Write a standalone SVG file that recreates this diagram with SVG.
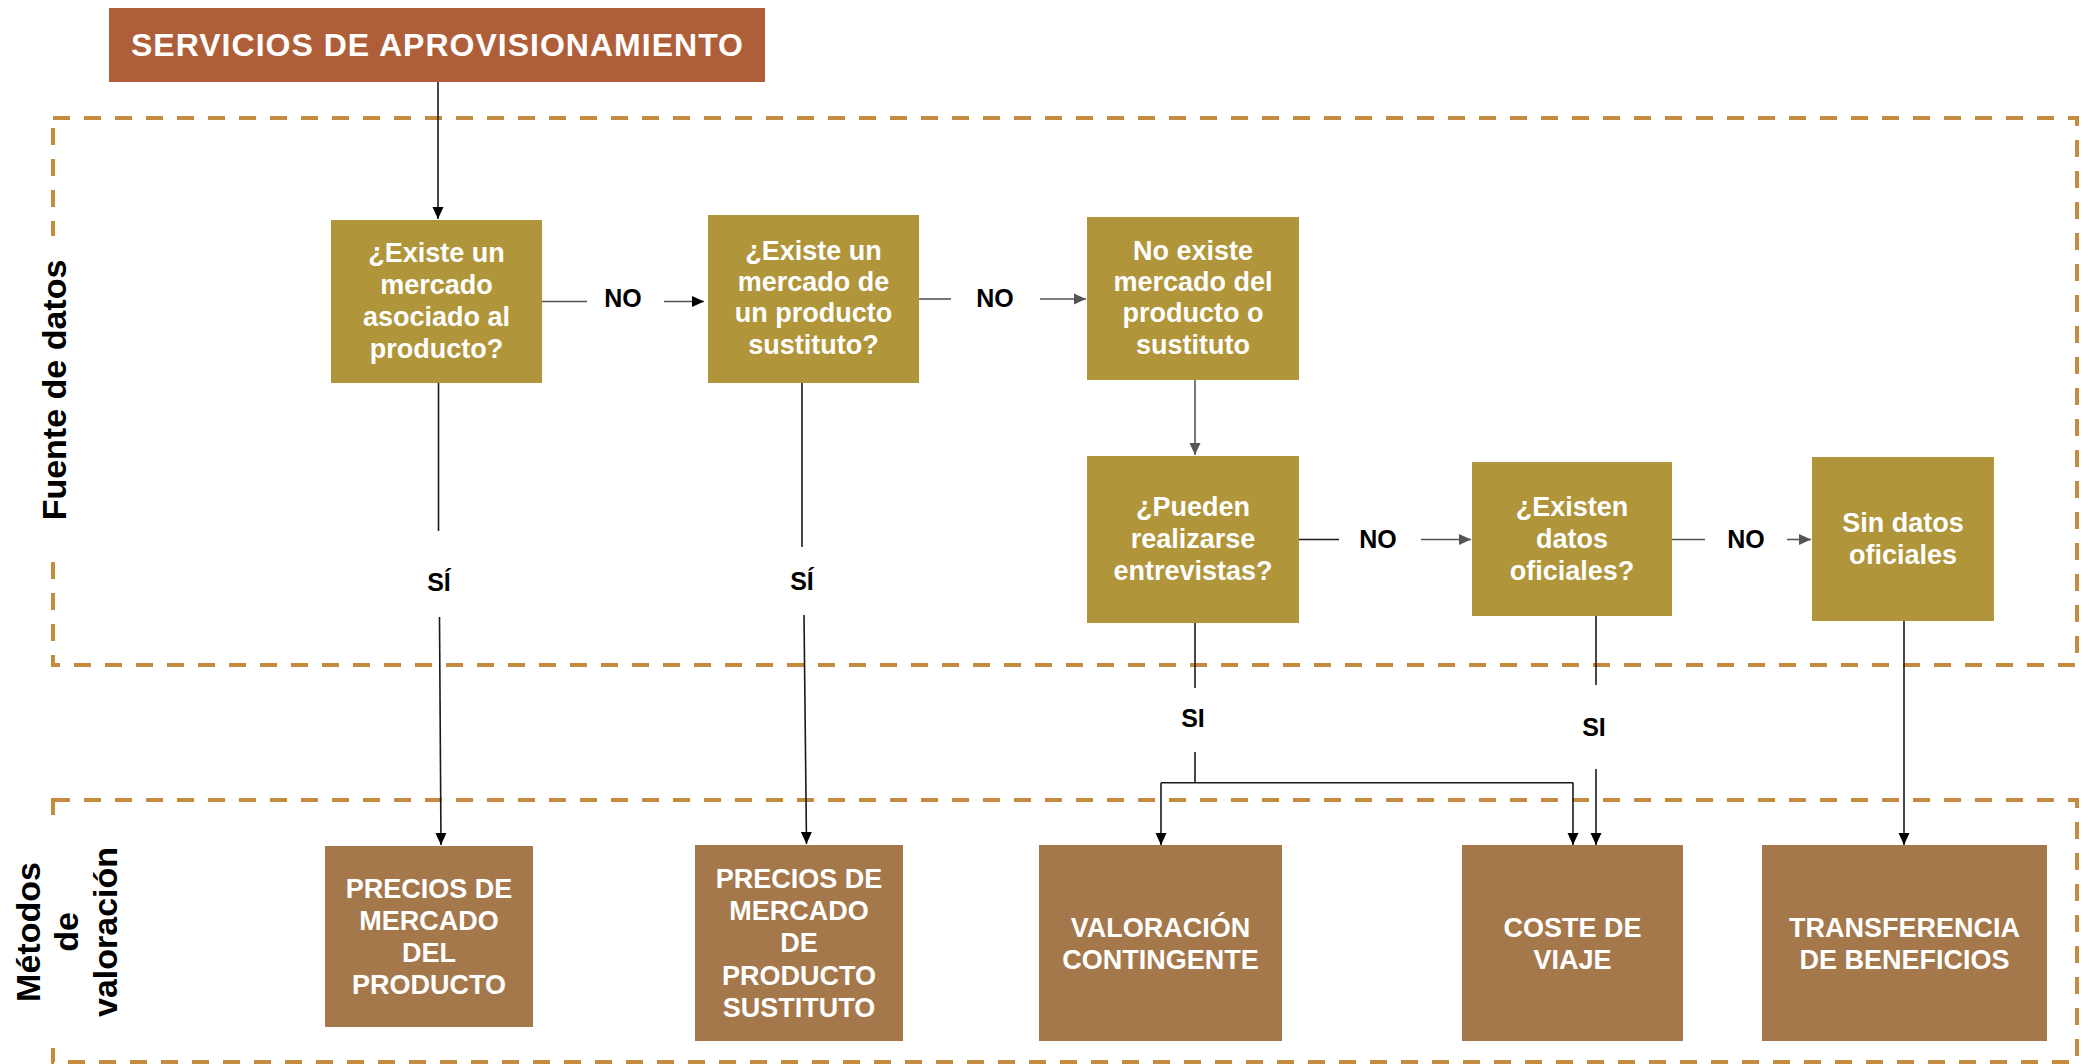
<svg xmlns="http://www.w3.org/2000/svg" width="2089" height="1064" viewBox="0 0 2089 1064">
<style>
text{font-family:"Liberation Sans",Arial,sans-serif;font-weight:bold}
.hdr{fill:#AE5F3A}
.gold{fill:#B0953A}
.brown{fill:#A4784B}
.wt{fill:#FFFFFF;font-size:27px;text-anchor:middle}
.lbl{fill:#000000;font-size:25px;text-anchor:middle}
.side{fill:#000000;font-size:34px;text-anchor:middle}
.zone{fill:none;stroke:#C48A3E;stroke-width:4;stroke-dasharray:17 14}
.c{fill:none;stroke:#1a1a1a;stroke-width:1.6}
.cg{fill:none;stroke:#555555;stroke-width:1.6}
</style>
<defs>
<marker id="ah" viewBox="0 0 12 12" refX="12" refY="6" markerWidth="12" markerHeight="12" markerUnits="userSpaceOnUse" orient="auto"><path d="M0,0.5 L12,6 L0,11.5 z" fill="#000000"/></marker>
<marker id="ahg" viewBox="0 0 12 12" refX="12" refY="6" markerWidth="12" markerHeight="12" markerUnits="userSpaceOnUse" orient="auto"><path d="M0,0.5 L12,6 L0,11.5 z" fill="#555555"/></marker>
</defs>
<rect width="2089" height="1064" fill="#FFFFFF"/>
<g id="zones">
<rect class="zone" x="53" y="118" width="2024" height="547"/>
<rect class="zone" x="53" y="800" width="2024" height="262"/>
<rect x="34" y="236" width="40" height="312" fill="#FFFFFF"/>
<rect x="6" y="820" width="120" height="228" fill="#FFFFFF"/>
<text class="side" transform="translate(66,390) rotate(-90)">Fuente de datos</text>
<text class="side" transform="translate(40,932) rotate(-90)">Métodos</text>
<text class="side" transform="translate(78,932) rotate(-90)">de</text>
<text class="side" transform="translate(117,932) rotate(-90)">valoración</text>
</g>
<g id="connectors">
<path class="c" d="M438,82 V219" marker-end="url(#ah)"/>
<path class="cg" d="M542,301.5 H587"/>
<path class="cg" d="M664,301.5 H704" marker-end="url(#ah)"/>
<text class="lbl" x="623" y="307">NO</text>
<path class="cg" d="M919,299 H951"/>
<path class="cg" d="M1040,299 H1086" marker-end="url(#ahg)"/>
<text class="lbl" x="995" y="307">NO</text>
<path class="cg" d="M1195,380 V455" marker-end="url(#ahg)"/>
<path class="c" d="M1299,539.5 H1339"/>
<path class="cg" d="M1421,539.5 H1471" marker-end="url(#ahg)"/>
<text class="lbl" x="1378" y="548">NO</text>
<path class="cg" d="M1672,539.5 H1705"/>
<path class="cg" d="M1787,539.5 H1811" marker-end="url(#ahg)"/>
<text class="lbl" x="1746" y="548">NO</text>
<path class="c" d="M438.5,383 V531"/>
<path class="c" d="M439.5,617 L441,845" marker-end="url(#ah)"/>
<text class="lbl" x="439" y="591">SÍ</text>
<path class="c" d="M802,383 V547"/>
<path class="c" d="M804,615 L806.5,844" marker-end="url(#ah)"/>
<text class="lbl" x="802" y="590">SÍ</text>
<path class="c" d="M1195,623 V688"/>
<text class="lbl" x="1193" y="727">SI</text>
<path class="c" d="M1195,752 V782.7"/>
<path class="c" d="M1161,782.7 H1573"/>
<path class="c" d="M1161,782.7 V845" marker-end="url(#ah)"/>
<path class="c" d="M1573,782.7 V845" marker-end="url(#ah)"/>
<path class="c" d="M1596,616 V685"/>
<text class="lbl" x="1594" y="736">SI</text>
<path class="c" d="M1596,769 V845" marker-end="url(#ah)"/>
<path class="c" d="M1904,621 V845" marker-end="url(#ah)"/>
</g>
<g id="header">
<rect class="hdr" x="109" y="8" width="656" height="74"/>
<text x="437" y="56" fill="#FFFFFF" font-size="32" text-anchor="middle" textLength="612">SERVICIOS DE APROVISIONAMIENTO</text>
</g>
<g id="q1">
<rect class="gold" x="331" y="220" width="211" height="163"/>
<text class="wt"><tspan x="436.5" y="262">¿Existe un</tspan><tspan x="436.5" y="294">mercado</tspan><tspan x="436.5" y="326">asociado al</tspan><tspan x="436.5" y="358">producto?</tspan></text>
</g>
<g id="q2">
<rect class="gold" x="708" y="215" width="211" height="168"/>
<text class="wt"><tspan x="813.5" y="260">¿Existe un</tspan><tspan x="813.5" y="291">mercado de</tspan><tspan x="813.5" y="322">un producto</tspan><tspan x="813.5" y="354">sustituto?</tspan></text>
</g>
<g id="q3">
<rect class="gold" x="1087" y="217" width="212" height="163"/>
<text class="wt"><tspan x="1193" y="260">No existe</tspan><tspan x="1193" y="291">mercado del</tspan><tspan x="1193" y="322">producto o</tspan><tspan x="1193" y="354">sustituto</tspan></text>
</g>
<g id="q4">
<rect class="gold" x="1087" y="456" width="212" height="167"/>
<text class="wt"><tspan x="1193" y="516">¿Pueden</tspan><tspan x="1193" y="548">realizarse</tspan><tspan x="1193" y="580">entrevistas?</tspan></text>
</g>
<g id="q5">
<rect class="gold" x="1472" y="462" width="200" height="154"/>
<text class="wt"><tspan x="1572" y="516">¿Existen</tspan><tspan x="1572" y="548">datos</tspan><tspan x="1572" y="580">oficiales?</tspan></text>
</g>
<g id="q6">
<rect class="gold" x="1812" y="457" width="182" height="164"/>
<text class="wt"><tspan x="1903" y="532">Sin datos</tspan><tspan x="1903" y="564">oficiales</tspan></text>
</g>
<g id="m1">
<rect class="brown" x="325" y="846" width="208" height="181"/>
<text class="wt"><tspan x="429" y="898">PRECIOS DE</tspan><tspan x="429" y="930">MERCADO</tspan><tspan x="429" y="962">DEL</tspan><tspan x="429" y="994">PRODUCTO</tspan></text>
</g>
<g id="m2">
<rect class="brown" x="695" y="845" width="208" height="196"/>
<text class="wt"><tspan x="799" y="888">PRECIOS DE</tspan><tspan x="799" y="920">MERCADO</tspan><tspan x="799" y="952">DE</tspan><tspan x="799" y="985">PRODUCTO</tspan><tspan x="799" y="1017">SUSTITUTO</tspan></text>
</g>
<g id="m3">
<rect class="brown" x="1039" y="845" width="243" height="196"/>
<text class="wt"><tspan x="1160.5" y="937">VALORACIÓN</tspan><tspan x="1160.5" y="969">CONTINGENTE</tspan></text>
</g>
<g id="m4">
<rect class="brown" x="1462" y="845" width="221" height="196"/>
<text class="wt"><tspan x="1572.5" y="937">COSTE DE</tspan><tspan x="1572.5" y="969">VIAJE</tspan></text>
</g>
<g id="m5">
<rect class="brown" x="1762" y="845" width="285" height="196"/>
<text class="wt"><tspan x="1904.5" y="937">TRANSFERENCIA</tspan><tspan x="1904.5" y="969">DE BENEFICIOS</tspan></text>
</g>
</svg>
